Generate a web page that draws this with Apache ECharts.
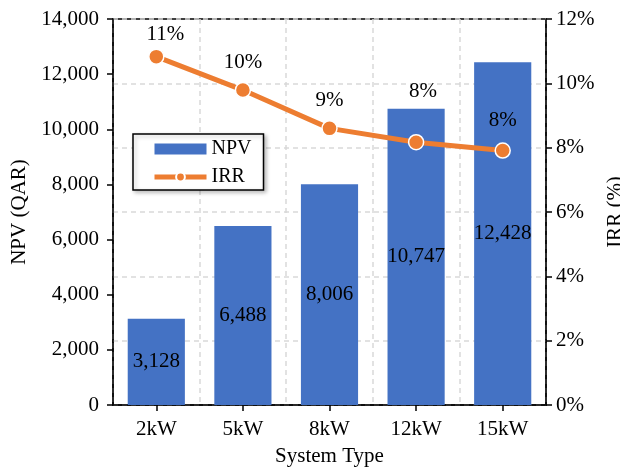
<!DOCTYPE html>
<html>
<head>
<meta charset="utf-8">
<script src="https://cdn.jsdelivr.net/npm/echarts@6/dist/echarts.min.js"></script>
<style>html,body{margin:0;padding:0;background:#fff}#c{width:620px;height:468px}</style>
</head>
<body>
<div id="c"></div>
<script>
const categories = ['2kW', '5kW', '8kW', '12kW', '15kW'];
const npvValues = [3128, 6488, 8006, 10747, 12428];
const irrValues = [10.83, 9.79, 8.60, 8.17, 7.91];
const npvTicks = { min: 0, max: 14000, interval: 2000 };
const irrTicks = { min: 0, max: 12, interval: 2 };

// label nudges (styling only)
const irrLabelOffsets = [[9, 6], [0, 0], [0, 0], [7, -23], [0, -2]];

const FONT = 'Liberation Serif';
const FS = 21;
const chart = echarts.init(document.getElementById('c'));
const axisLine = { show: true, lineStyle: { color: '#000', width: 1.5 } };
const tick = { show: true, length: 6, lineStyle: { color: '#000', width: 1.5 } };
const dashed = { show: true, lineStyle: { color: '#d9d9d9', type: [5, 4], width: 1.5 } };

chart.setOption({
  animation: false,
  textStyle: { fontFamily: FONT },
  grid: { left: 113, right: 74, top: 19, bottom: 63, containLabel: false, outerBoundsMode: 'none',
    show: true, borderColor: '#000', borderWidth: 1.5, backgroundColor: 'transparent' },
  legend: {
    orient: 'vertical', left: 133, top: 134,
    padding: [5, 12, 3, 19],
    itemWidth: 52, itemHeight: 11, itemGap: 8,
    backgroundColor: '#fff', borderColor: '#000', borderWidth: 1.5,
    shadowColor: 'rgba(0,0,0,0.25)', shadowBlur: 4, shadowOffsetX: 2, shadowOffsetY: 2,
    textStyle: { fontFamily: FONT, fontSize: 20, color: '#000' },
    data: [
      { name: 'NPV', icon: 'rect' },
      { name: 'IRR', lineStyle: { width: 5 } }
    ]
  },
  xAxis: {
    type: 'category', data: categories,
    name: 'System Type', nameLocation: 'middle', nameGap: 41,
    nameTextStyle: { fontFamily: FONT, fontSize: FS, color: '#000' },
    axisLine: axisLine,
    axisTick: Object.assign({ alignWithLabel: true }, tick),
    axisLabel: { fontFamily: FONT, fontSize: FS, color: '#000', margin: 14 },
    splitLine: dashed
  },
  yAxis: [
    {
      type: 'value', min: npvTicks.min, max: npvTicks.max, interval: npvTicks.interval,
      name: 'NPV (QAR)', nameLocation: 'middle', nameGap: 83,
      nameTextStyle: { fontFamily: FONT, fontSize: FS, color: '#000' },
      axisLine: axisLine, axisTick: tick,
      axisLabel: { fontFamily: FONT, fontSize: FS, color: '#000', margin: 14,
        formatter: v => v.toLocaleString('en-US') },
      splitLine: { show: false }
    },
    {
      type: 'value', min: irrTicks.min, max: irrTicks.max, interval: irrTicks.interval,
      name: 'IRR (%)', nameLocation: 'middle', nameGap: 58,
      nameTextStyle: { fontFamily: FONT, fontSize: FS, color: '#000' },
      axisLine: axisLine, axisTick: tick,
      axisLabel: { fontFamily: FONT, fontSize: FS, color: '#000', margin: 10, formatter: '{value}%' },
      splitLine: dashed
    }
  ],
  series: [
    {
      name: 'NPV', type: 'bar', yAxisIndex: 0, data: npvValues,
      barCategoryGap: '34%',
      itemStyle: { color: '#4472C4' },
      label: { show: true, position: 'inside', fontFamily: FONT, fontSize: FS, color: '#000',
        formatter: p => p.value.toLocaleString('en-US') }
    },
    {
      name: 'IRR', type: 'line', yAxisIndex: 1,
      data: irrValues.map((v, i) => ({ value: v, label: { offset: irrLabelOffsets[i] } })),
      lineStyle: { color: '#ED7D31', width: 5 },
      itemStyle: { color: '#ED7D31', borderColor: '#fff', borderWidth: 1.5 },
      symbol: 'circle', symbolSize: 15,
      z: 5,
      label: { show: true, position: 'top', distance: 9, fontFamily: FONT, fontSize: FS, color: '#000',
        formatter: p => Math.round(p.value) + '%' }
    }
  ]
});
</script>
</body>
</html>
